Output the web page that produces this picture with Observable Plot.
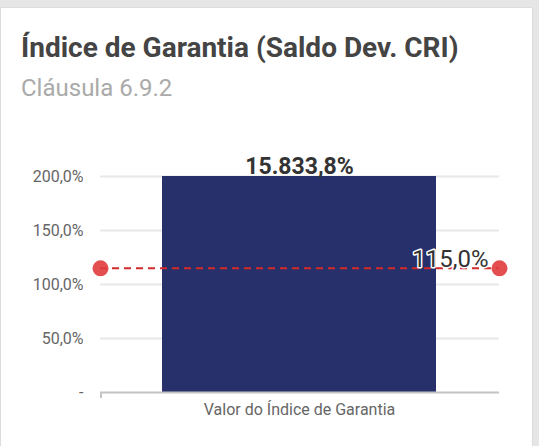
<!DOCTYPE html>
<html>
<head>
<meta charset="utf-8">
<script src="https://cdn.jsdelivr.net/npm/d3@7"></script>
<script src="https://cdn.jsdelivr.net/npm/@observablehq/plot@0.6"></script>
<style>
  html, body { margin: 0; padding: 0; background: #e6e6e6; width: 539px; height: 446px; overflow: hidden; font-family: Roboto, sans-serif; }
  #card { position: absolute; left: 0; top: 7px; width: 533px; height: 460px; background: #fff; border-left: 1px solid #dcdcdc; border-top: 1px solid #dcdcdc; border-right: 1px solid #dcdcdc; box-sizing: border-box; }
  #title { position: absolute; left: 21px; top: 31px; font-size: 28px; line-height: normal; font-weight: bold; color: #444; white-space: nowrap; }
  #subtitle { position: absolute; left: 21px; top: 74px; font-size: 24px; line-height: normal; color: #aaa; white-space: nowrap; }
  #chart { position: absolute; left: 0; top: 140px; }
</style>
</head>
<body>
<div id="card"></div>
<div id="title">Índice de Garantia (Saldo Dev. CRI)</div>
<div id="subtitle">Cláusula 6.9.2</div>
<div id="chart"></div>
<script>
const categories = ["Valor do Índice de Garantia"];
const values = [15833.8];
const threshold = [115];
const yTicks = [0, 50, 100, 150, 200];
const yDomain = [0, 200];

const ptBR = d3.formatLocale({decimal: ",", thousands: ".", grouping: [3], currency: ["R$", ""]});
const fmt = ptBR.format(",.1f");
const pct = v => fmt(v) + "%";

const bars = categories.map((c, i) => ({category: c, value: values[i]}));
const limits = threshold.map(t => ({value: t}));

const plot = Plot.plot({
  width: 539,
  height: 306,
  marginLeft: 100,
  marginRight: 40,
  marginTop: 36,
  marginBottom: 54,
  style: {fontFamily: "Roboto, sans-serif", fontSize: "16px", color: "#666", background: "transparent"},
  x: {domain: categories, padding: 0.184, label: null},
  y: {domain: yDomain, ticks: yTicks, label: null},
  marks: [
    Plot.gridY(yTicks.filter(t => t > 0), {stroke: "#e8e8e8", strokeOpacity: 1, strokeWidth: 2}),
    Plot.axisY(yTicks, {tickSize: 0, tickPadding: 17, tickFormat: v => v === 0 ? "-" : pct(v), fill: "#666", fontSize: 16}),
    Plot.axisX({tickSize: 0, tickPadding: 11, fill: "#666", fontSize: 16}),
    Plot.barY(bars, {x: "category", y: "value", fill: "#27306a", clip: true}),
    Plot.ruleY([0], {stroke: "#c4c4c4", strokeWidth: 2}),
    Plot.text(bars, {x: "category", y: () => yDomain[1], text: d => pct(d.value), lineAnchor: "bottom", dy: -3, fontWeight: "bold", fontSize: 23, fill: "#333"}),
    Plot.ruleY(limits, {y: "value", stroke: "#d42a2a", strokeWidth: 2, strokeDasharray: "7,5"}),
    Plot.dot(limits, {y: "value", frameAnchor: "left", r: 8, fill: "#e03c3c", fillOpacity: 0.9, stroke: "none"}),
    Plot.dot(limits, {y: "value", frameAnchor: "right", r: 8, fill: "#e03c3c", fillOpacity: 0.9, stroke: "none"}),
    Plot.text(limits, {y: "value", frameAnchor: "right", text: d => pct(d.value), textAnchor: "end", lineAnchor: "bottom", dx: -11, dy: -1, fontSize: 24, fill: "#333", stroke: "white", strokeWidth: 3})
  ]
});

// small category-boundary tick at the start of the x band range
const xs = plot.scale("x");
const ys = plot.scale("y");
d3.select(plot).append("line")
  .attr("x1", xs.range[0] + 1).attr("x2", xs.range[0] + 1)
  .attr("y1", ys.range[0]).attr("y2", ys.range[0] + 6)
  .attr("stroke", "#c4c4c4").attr("stroke-width", 2);

document.getElementById("chart").appendChild(plot);
</script>
</body>
</html>
